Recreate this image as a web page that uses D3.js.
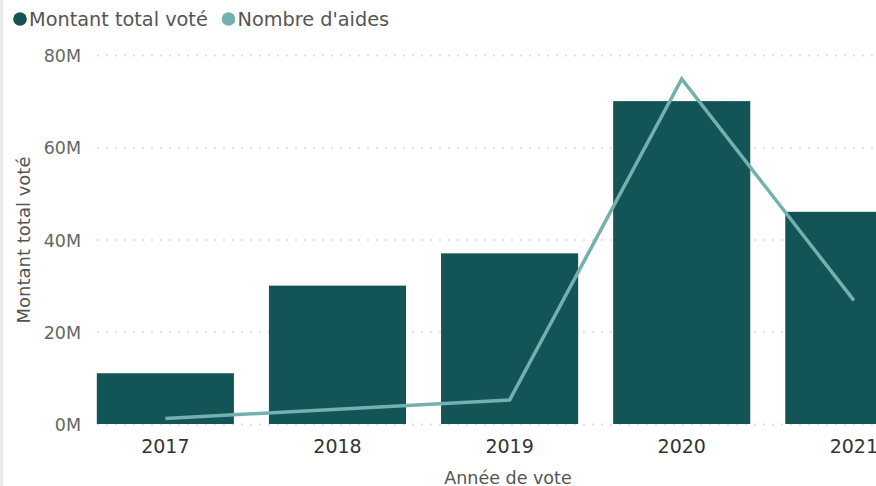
<!DOCTYPE html>
<html>
<head>
<meta charset="utf-8">
<script src="https://cdn.jsdelivr.net/npm/d3@7"></script>
<style>
  body { margin: 0; background: #fff; overflow: hidden; }
  text { font-family: "DejaVu Sans", sans-serif; }
</style>
</head>
<body>
<svg id="chart" width="876" height="486"></svg>
<script>
// data
const years = ["2017", "2018", "2019", "2020", "2021"];
const montant = [11e6, 30e6, 37e6, 70e6, 46e6]; // Montant total voté
const aides = [3, 8, 13, 187, 67]; // Nombre d'aides (secondary axis, hidden)
const yTicks = [0, 20e6, 40e6, 60e6, 80e6];

const colBar = "#135457";
const colLine = "#74b0b0";

let svg = d3.select("#chart");

let dims = { top: 55, bottom: 424, left: 81 };

// left edge border of the visual
svg.append("rect").attr("x", 0).attr("y", 0).attr("width", 3).attr("height", 486).attr("fill", "#ebebeb");

let xScale = d3.scaleBand()
  .domain(years)
  .range([79.6, 939.6])
  .paddingInner(0.2035)
  .paddingOuter(0.1);

let yScale = d3.scaleLinear().domain([0, 80e6]).range([dims.bottom, dims.top]);
let y2Scale = d3.scaleLinear().domain([0, 200]).range([dims.bottom, dims.top]);

// gridlines
svg.append("g")
  .selectAll("line")
  .data(yTicks)
  .enter()
  .append("line")
  .attr("x1", 97)
  .attr("x2", 876)
  .attr("y1", (d) => yScale(d) + 0.5)
  .attr("y2", (d) => yScale(d) + 0.5)
  .attr("stroke", "#e0e0e0")
  .attr("stroke-width", 2)
  .attr("stroke-dasharray", "2,7");

// y axis labels
let yAxis = d3.axisLeft(yScale)
  .tickValues(yTicks)
  .tickFormat((d) => d / 1e6 + "M")
  .tickSize(0)
  .tickPadding(0);

let gy = svg.append("g").attr("transform", "translate(" + dims.left + ",1)").call(yAxis);
gy.select(".domain").remove();
gy.selectAll("text").attr("fill", "#666666").style("font-size", "17.5px");

// bars
svg.append("g")
  .selectAll("rect")
  .data(years)
  .enter()
  .append("rect")
  .attr("x", (d) => xScale(d))
  .attr("y", (d, i) => yScale(montant[i]))
  .attr("width", xScale.bandwidth())
  .attr("height", (d, i) => yScale(0) - yScale(montant[i]))
  .attr("fill", colBar);

// line
let line = d3.line()
  .x((d, i) => xScale(years[i]) + xScale.bandwidth() / 2)
  .y((d) => y2Scale(d));

svg.append("path")
  .datum(aides)
  .attr("d", line)
  .attr("fill", "none")
  .attr("stroke", colLine)
  .attr("stroke-width", 3.5)
  .attr("stroke-linejoin", "miter");

// x axis labels
let xAxis = d3.axisBottom(xScale).tickSize(0).tickPadding(0);
let gx = svg.append("g").attr("transform", "translate(0,453)").call(xAxis);
gx.select(".domain").remove();
gx.selectAll("text").attr("fill", "#333333").attr("dy", 0).style("font-size", "19px");

// axis titles
svg.append("text")
  .text("Année de vote")
  .attr("x", 508)
  .attr("y", 484)
  .attr("text-anchor", "middle")
  .attr("fill", "#555555")
  .style("font-size", "17.5px");

svg.append("text")
  .text("Montant total voté")
  .attr("transform", "translate(30,240) rotate(-90)")
  .attr("text-anchor", "middle")
  .attr("fill", "#555555")
  .style("font-size", "18px");

// legend
let legend = [
  { name: "Montant total voté", color: colBar, x: 20 },
  { name: "Nombre d'aides", color: colLine, x: 228.5 },
];
let lg = svg.append("g").selectAll("g").data(legend).enter().append("g")
  .attr("transform", (d) => "translate(" + d.x + ",19)");
lg.append("circle").attr("r", 6.8).attr("fill", (d) => d.color);
lg.append("text")
  .text((d) => d.name)
  .attr("x", 9)
  .attr("dy", "0.36em")
  .attr("fill", "#555555")
  .style("font-size", "19.3px");
</script>
</body>
</html>
